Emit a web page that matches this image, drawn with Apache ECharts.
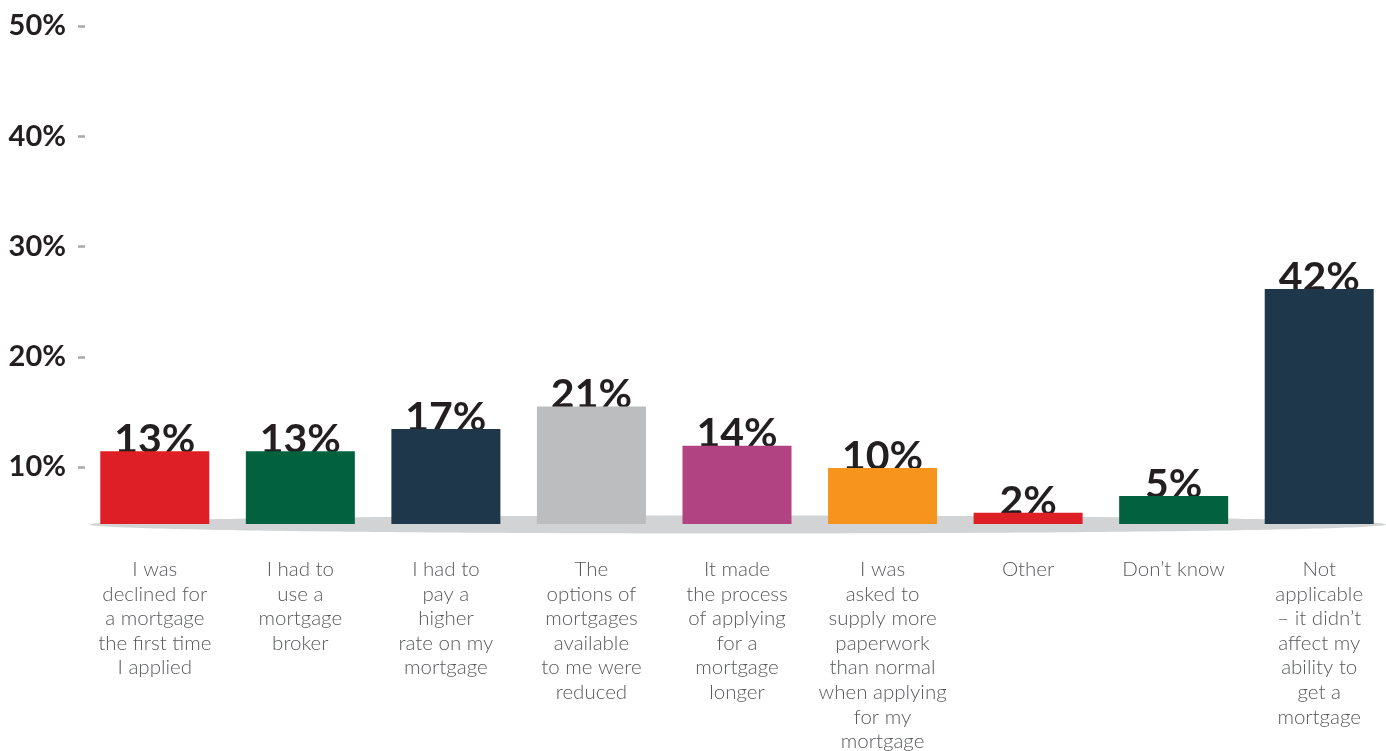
<!DOCTYPE html>
<html>
<head>
<meta charset="utf-8">
<title>Impact on mortgage applications</title>
<script src="https://cdn.jsdelivr.net/npm/echarts@6/dist/echarts.min.js"></script>
<style>
  html, body { margin: 0; padding: 0; background: #ffffff; }
  #chart { width: 1386px; height: 751px; }
</style>
</head>
<body>
<div id="chart"></div>
<script>
// Survey answers (one category per bar), wrapped the way they are printed
const categories = [
  ['I was', 'declined for', 'a mortgage', 'the first time', 'I applied'],
  ['I had to', 'use a', 'mortgage', 'broker'],
  ['I had to', 'pay a', 'higher', 'rate on my', 'mortgage'],
  ['The', 'options of', 'mortgages', 'available', 'to me were', 'reduced'],
  ['It made', 'the process', 'of applying', 'for a', 'mortgage', 'longer'],
  ['I was', 'asked to', 'supply more', 'paperwork', 'than normal', 'when applying', 'for my', 'mortgage'],
  ['Other'],
  ['Don\u2019t know'],
  ['Not', 'applicable', '\u2013 it didn\u2019t', 'affect my', 'ability to', 'get a', 'mortgage']
];

// Share of respondents, percent
const values = [13, 13, 17, 21, 14, 10, 2, 5, 42];

// Bar fill per category
const barColors = ['#df1f26', '#026240', '#1f374a', '#bcbdbf', '#b24382', '#f7941d', '#df1f26', '#026240', '#1f374a'];

// Percentage scale printed on the left
const scaleMin = 10;
const scaleMax = 50;
const scaleStep = 10;

const chart = echarts.init(document.getElementById('chart'), null, { renderer: 'canvas' });

const TEXT_DARK = '#231f20';
const TEXT_GREY = '#58595b';

chart.setOption({
  animation: false,
  backgroundColor: '#ffffff',
  grid: [
    // plotting area for the bars
    { left: 82, top: 26, width: 1310, height: 498, outerBoundsMode: 'none', containLabel: false },
    // percentage scale
    { left: 85, top: 26, width: 10, height: 441, outerBoundsMode: 'none', containLabel: false }
  ],
  graphic: [
    {
      // soft grey floor under the bars
      type: 'ellipse',
      z: 0,
      silent: true,
      shape: { cx: 738, cy: 524.5, rx: 648, ry: 9 },
      style: { fill: '#d1d3d4' }
    }
  ],
  xAxis: [
    {
      type: 'category',
      gridIndex: 0,
      data: categories.map(lines => lines.join('\n')),
      axisLine: { show: false },
      axisTick: { show: false },
      splitLine: { show: false },
      axisLabel: {
        interval: 0,
        margin: 33,
        color: TEXT_GREY,
        fontFamily: 'Lato',
        fontWeight: 300,
        fontSize: 20.5,
        lineHeight: 24.6,
        align: 'center',
        verticalAlign: 'top'
      }
    },
    {
      type: 'category',
      gridIndex: 1,
      data: [''],
      show: false
    }
  ],
  yAxis: [
    {
      type: 'value',
      gridIndex: 0,
      min: 0,
      max: 89,
      show: false,
      splitLine: { show: false }
    },
    {
      type: 'value',
      gridIndex: 1,
      min: scaleMin,
      max: scaleMax,
      interval: scaleStep,
      axisLine: { show: false },
      splitLine: { show: false },
      axisTick: {
        show: true,
        length: 7,
        lineStyle: { color: '#a7a9ac', width: 2.5 }
      },
      axisLabel: {
        margin: 19,
        color: TEXT_DARK,
        fontFamily: 'Lato',
        fontWeight: 'bold',
        fontSize: 29,
        formatter: v => v + '%'
      }
    }
  ],
  series: [
    {
      // value labels, tucked behind the top edge of each bar
      name: 'labels',
      type: 'bar',
      xAxisIndex: 0,
      yAxisIndex: 0,
      z: 1,
      silent: true,
      barWidth: 109,
      data: values,
      itemStyle: { color: 'rgba(0,0,0,0)' },
      label: {
        show: true,
        position: 'top',
        distance: -9,
        formatter: p => p.value + '%',
        color: TEXT_DARK,
        fontFamily: 'Lato',
        fontWeight: 'bold',
        fontSize: 41,
        lineHeight: 41
      }
    },
    {
      name: 'share',
      type: 'bar',
      xAxisIndex: 0,
      yAxisIndex: 0,
      z: 3,
      barWidth: 109,
      barGap: '-100%',
      data: values.map((v, i) => ({ value: v, itemStyle: { color: barColors[i] } }))
    }
  ]
});
</script>
</body>
</html>
